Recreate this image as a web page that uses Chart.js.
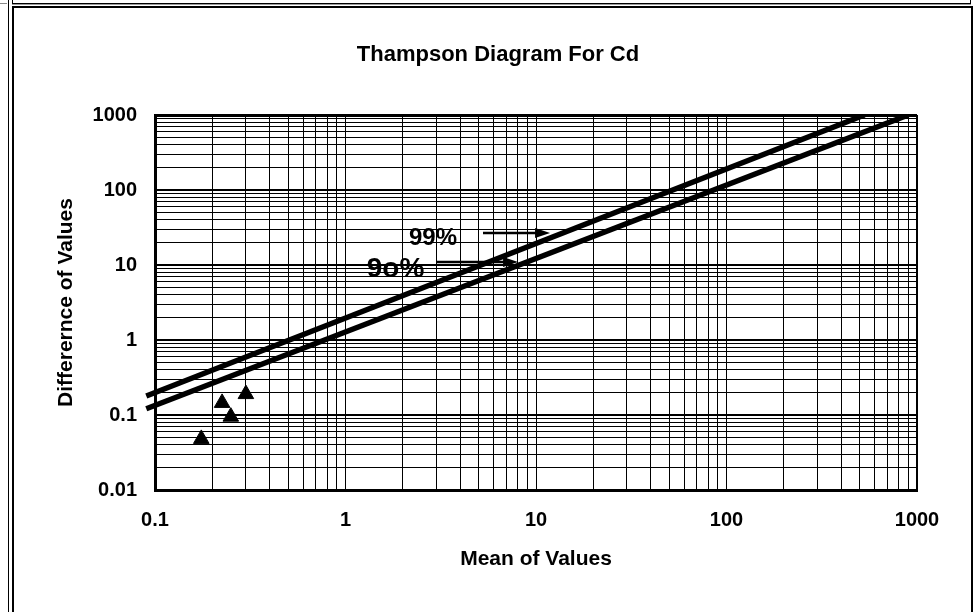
<!DOCTYPE html>
<html>
<head>
<meta charset="utf-8">
<title>Thampson Diagram For Cd</title>
<script src="https://cdn.jsdelivr.net/npm/chart.js@4.4.0/dist/chart.umd.min.js"></script>
<style>
  html, body { margin: 0; padding: 0; background: #fff; }
  body { width: 975px; height: 612px; position: relative; overflow: hidden; }
  .rule { position: absolute; background: #000; }
  #strip { position: absolute; left: 12px; top: -10px; width: 957px; height: 12px; border: 1px solid #000; box-shadow: 0 1px 0 #999; }
  #box { position: absolute; left: 12px; top: 6px; width: 957px; height: 620px; border: 2px solid #000; }
  #wrap { position: absolute; left: 0; top: 0; width: 975px; height: 612px; }
</style>
</head>
<body>
<div class="rule" style="left:8px;top:0;width:1px;height:612px;"></div>
<div class="rule" style="left:0;top:3px;width:7px;height:1px;background:#888;"></div>
<div id="strip"></div>
<div id="box"></div>
<div id="wrap"><canvas id="chart"></canvas></div>
<script>
// measured samples (mean vs difference)
const meanValues = [0.175, 0.225, 0.25, 0.3];
const diffValues = [0.048, 0.145, 0.095, 0.19];

// precision lines, end points
const line99X = [0.09, 530];
const line99Y = [0.179, 1000];
const line90X = [0.09, 900];
const line90Y = [0.121, 1000];

// axis decades and their labels
const xTickValues = [0.1, 1, 10, 100, 1000];
const xTickLabels = ['0.1', '1', '10', '100', '1000'];
const yTickValues = [0.01, 0.1, 1, 10, 100, 1000];
const yTickLabels = ['0.01', '0.1', '1', '10', '100', '1000'];

// the two arrow notes, placed in data units
const notes = [
    { text: '99%', size: 24, x: 2.88, y: 18.5, arrowFrom: 5.27, arrowTo: 11.85, arrowY: 26.7 },
    { text: '9o%', size: 28, x: 1.83, y: 6.98, arrowFrom: 3.02, arrowTo: 8.05, arrowY: 10.96 }
];

const FONT = 'Arial, "Liberation Sans", Helvetica, sans-serif';

// minor grid: 1..9 in every decade
function logGrid(decades) {
    const out = [];
    for (let i = 0; i < decades.length - 1; i++) {
        for (let k = 1; k <= 9; k++) out.push(k * decades[i]);
    }
    out.push(decades[decades.length - 1]);
    return out;
}

function isSame(a, b) {
    return Math.abs(a - b) < b * 1e-6;
}

function labelFor(values, labels, v) {
    const i = values.findIndex(t => isSame(v, t));
    return i >= 0 ? labels[i] : '';
}

const titleAndNotes = {
    id: 'titleAndNotes',
    afterDatasetsDraw(chart) {
        const ctx = chart.ctx;
        const xs = chart.scales.x;
        const ys = chart.scales.y;
        ctx.save();
        ctx.fillStyle = '#000';
        ctx.strokeStyle = '#000';

        ctx.font = 'bold 22px ' + FONT;
        ctx.textAlign = 'center';
        ctx.textBaseline = 'alphabetic';
        ctx.fillText('Thampson Diagram For Cd', 498, 60.5);

        notes.forEach(n => {
            ctx.font = 'bold ' + n.size + 'px ' + FONT;
            ctx.fillText(n.text, xs.getPixelForValue(n.x), ys.getPixelForValue(n.y));

            const x0 = xs.getPixelForValue(n.arrowFrom);
            const x1 = xs.getPixelForValue(n.arrowTo);
            const y = ys.getPixelForValue(n.arrowY);
            ctx.lineWidth = 2.5;
            ctx.beginPath();
            ctx.moveTo(x0, y);
            ctx.lineTo(x1 - 12, y);
            ctx.stroke();
            ctx.beginPath();
            ctx.moveTo(x1, y);
            ctx.lineTo(x1 - 15, y - 5);
            ctx.lineTo(x1 - 15, y + 5);
            ctx.closePath();
            ctx.fill();
        });
        ctx.restore();
    }
};

const xGrid = logGrid(xTickValues);
const yGrid = logGrid(yTickValues);

new Chart(document.getElementById('chart'), {
    type: 'scatter',
    data: {
        datasets: [
            {
                label: '99%',
                data: line99X.map((x, i) => ({ x: x, y: line99Y[i] })),
                showLine: true,
                borderColor: '#000',
                borderWidth: 5.5,
                pointRadius: 0,
                clip: { left: 20, top: 0, right: 0, bottom: 0 }
            },
            {
                label: '90%',
                data: line90X.map((x, i) => ({ x: x, y: line90Y[i] })),
                showLine: true,
                borderColor: '#000',
                borderWidth: 5.5,
                pointRadius: 0,
                clip: { left: 20, top: 0, right: 0, bottom: 0 }
            },
            {
                label: 'Cd',
                data: meanValues.map((x, i) => ({ x: x, y: diffValues[i] })),
                pointStyle: 'triangle',
                pointRadius: 9,
                backgroundColor: '#000',
                borderColor: '#000',
                borderWidth: 1
            }
        ]
    },
    options: {
        responsive: true,
        maintainAspectRatio: false,
        animation: false,
        layout: { padding: { left: 8, right: 58, top: 115, bottom: 0 } },
        plugins: {
            legend: { display: false },
            tooltip: { enabled: false }
        },
        scales: {
            x: {
                type: 'logarithmic',
                min: 0.1,
                max: 1000,
                afterBuildTicks: s => { s.ticks = xGrid.map(v => ({ value: v })); },
                afterFit: s => { s.height = 122; },
                grid: {
                    color: '#000',
                    drawTicks: false,
                    lineWidth: c => (c.tick && isSame(c.tick.value, 1000)) ? 2 : 1
                },
                border: { color: '#000', width: 3 },
                ticks: {
                    autoSkip: false,
                    maxRotation: 0,
                    padding: 18,
                    color: '#000',
                    font: { family: FONT, size: 20, weight: 'bold' },
                    callback: v => labelFor(xTickValues, xTickLabels, v)
                },
                title: {
                    display: true,
                    text: 'Mean of Values',
                    color: '#000',
                    font: { family: FONT, size: 21, weight: 'bold' },
                    padding: { top: 0, bottom: 40 }
                }
            },
            y: {
                type: 'logarithmic',
                min: 0.01,
                max: 1000,
                afterBuildTicks: s => { s.ticks = yGrid.map(v => ({ value: v })); },
                afterFit: s => { s.width = 147; },
                grid: {
                    color: '#000',
                    drawTicks: false,
                    lineWidth: c => {
                        if (!c.tick) return 1;
                        if (isSame(c.tick.value, 1000)) return 3;
                        return yTickValues.some(t => isSame(c.tick.value, t)) ? 2 : 1;
                    }
                },
                border: { color: '#000', width: 3 },
                ticks: {
                    autoSkip: false,
                    padding: 18,
                    color: '#000',
                    font: { family: FONT, size: 20, weight: 'bold' },
                    callback: v => labelFor(yTickValues, yTickLabels, v)
                },
                title: {
                    display: true,
                    text: 'Differernce of Values',
                    color: '#000',
                    font: { family: FONT, size: 21, weight: 'bold' },
                    padding: { top: 46, bottom: 0 }
                }
            }
        }
    },
    plugins: [titleAndNotes]
});
</script>
</body>
</html>
